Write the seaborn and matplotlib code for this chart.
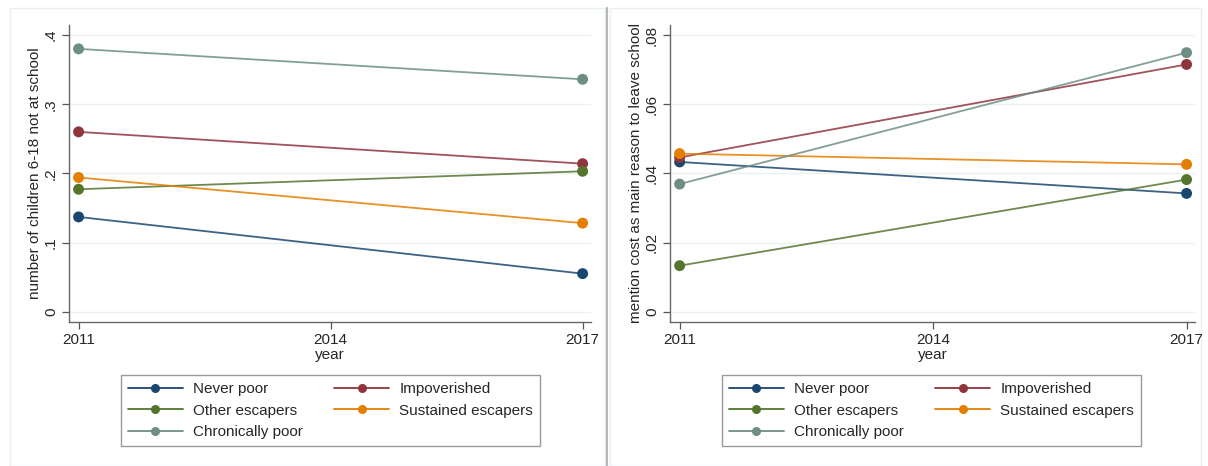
import matplotlib
matplotlib.use("Agg")
import matplotlib.pyplot as plt
from matplotlib.lines import Line2D
import seaborn as sns
import pandas as pd

sns.set_theme(style="white")
plt.rcParams["font.family"] = ["Liberation Sans", "DejaVu Sans"]

years = [2011, 2017]
groups = ["Never poor", "Impoverished", "Other escapers",
          "Sustained escapers", "Chronically poor"]
colors = ["#1a476f", "#90353b", "#55752f", "#e37e00", "#6e8e84"]

# share of children 6-18 not at school
not_at_school = {
    "Never poor": [0.137, 0.055],
    "Impoverished": [0.260, 0.214],
    "Other escapers": [0.177, 0.203],
    "Sustained escapers": [0.194, 0.128],
    "Chronically poor": [0.380, 0.336],
}
# share mentioning cost as main reason to leave school
cost_reason = {
    "Never poor": [0.0433, 0.0342],
    "Impoverished": [0.0446, 0.0715],
    "Other escapers": [0.0133, 0.0382],
    "Sustained escapers": [0.0457, 0.0426],
    "Chronically poor": [0.0369, 0.0749],
}

left_ticks = [0, 0.1, 0.2, 0.3, 0.4]
left_ticklabels = ["0", ".1", ".2", ".3", ".4"]
right_ticks = [0, 0.02, 0.04, 0.06, 0.08]
right_ticklabels = ["0", ".02", ".04", ".06", ".08"]
xticks = [2011, 2014, 2017]

palette = dict(zip(groups, colors))
FS = 11


def long_form(values):
    rows = []
    for g in groups:
        for yr, v in zip(years, values[g]):
            rows.append({"year": yr, "group": g, "value": v})
    return pd.DataFrame(rows)


W, H = 1208, 466
fig = plt.figure(figsize=(W / 100, H / 100), dpi=100)
fig.patch.set_facecolor("white")

# faint panel outlines and separator
for (x0, x1) in [(10, 605), (610, 1201)]:
    fig.add_artist(plt.Rectangle((x0 / W, 0), (x1 - x0) / W, 1 - 8 / H,
                                 transform=fig.transFigure, fill=False,
                                 edgecolor="#e9eef0", lw=1.0, zorder=0))
fig.add_artist(Line2D([607 / W, 607 / W], [0, 1 - 8 / H],
                      transform=fig.transFigure, color="#b4b8ba", lw=1.6))

bottom = 1 - 321.7 / H
height = (321.7 - 25) / H
panels = [
    (69, 591, not_at_school, (-0.0145, 0.4145), left_ticks, left_ticklabels,
     "number of children 6-18 not at school", (121, 540)),
    (670, 1195, cost_reason, (-0.0029, 0.0829), right_ticks, right_ticklabels,
     "mention cost as main reason to leave school", (722, 1141)),
]

for (x0, x1, values, ylim, yt, ytl, ylabel, (lx0, lx1)) in panels:
    ax = fig.add_axes([x0 / W, bottom, (x1 - x0) / W, height])
    df = long_form(values)
    for yv in yt:
        ax.axhline(yv, color="#eaf2f3", lw=1.0, zorder=0)
    sns.lineplot(data=df, x="year", y="value", hue="group", palette=palette,
                 hue_order=groups, lw=1.3, alpha=0.85, legend=False, ax=ax,
                 zorder=2)
    sns.scatterplot(data=df, x="year", y="value", hue="group", palette=palette,
                    hue_order=groups, s=62, linewidth=0, legend=False, ax=ax,
                    zorder=3)
    ax.set_xlim(2010.886, 2017.1)
    ax.set_ylim(*ylim)
    ax.set_xticks(xticks)
    ax.set_xticklabels([str(t) for t in xticks], fontsize=FS)
    ax.set_yticks(yt)
    ax.set_yticklabels(ytl, fontsize=FS, rotation=90, va="center")
    ax.tick_params(axis="both", direction="out", length=5, width=0.9,
                   color="#555555", pad=3, bottom=True, left=True)
    for side in ["top", "right"]:
        ax.spines[side].set_visible(False)
    for side in ["left", "bottom"]:
        ax.spines[side].set_color("#666666")
        ax.spines[side].set_linewidth(1.0)
    ax.set_xlabel("year", fontsize=FS, labelpad=1)
    ax.set_ylabel(ylabel, fontsize=FS, labelpad=1)
    ax.set_facecolor("white")

    order = ["Never poor", "Other escapers", "Chronically poor",
             "Impoverished", "Sustained escapers"]
    handles = [Line2D([], [], color=palette[g], lw=1.3, marker="o",
                      markersize=6.5, markeredgewidth=0,
                      markerfacecolor=palette[g]) for g in order]
    leg = fig.legend(handles, order, ncol=2,
                     bbox_to_anchor=(lx0 / W, 1 - 448 / H, (lx1 - lx0) / W,
                                     75 / H),
                     loc="center", mode="expand", fontsize=FS,
                     frameon=True, fancybox=False, handlelength=3.6,
                     handletextpad=0.65, labelspacing=0.5, borderpad=0.45,
                     columnspacing=2.0, borderaxespad=0)
    leg.get_frame().set_edgecolor("#808080")
    leg.get_frame().set_linewidth(1.0)

fig.savefig("out.png", dpi=100, facecolor="white")
